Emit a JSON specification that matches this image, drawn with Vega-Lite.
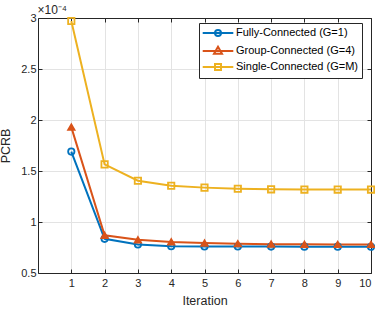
{
  "$schema": "https://vega.github.io/schema/vega-lite/v6.json",
  "width": 333,
  "height": 255,
  "autosize": {"type": "none"},
  "padding": {"left": 38, "top": 18, "right": 4, "bottom": 36},
  "background": "white",
  "config": {
    "view": {"stroke": null},
    "font": "Liberation Sans",
    "axis": {"labelFont": "Liberation Sans", "labelFontSize": 11, "labelColor": "#262626", "titleFont": "Liberation Sans", "titleFontSize": 12.5, "titleFontWeight": "normal", "titleColor": "#262626", "domainColor": "#262626", "tickColor": "#262626", "gridColor": "#e3e3e3", "gridOpacity": 1},
    "legend": {"labelFont": "Liberation Sans", "labelFontSize": 11, "labelColor": "#000000", "symbolSize": 100, "symbolStrokeWidth": 2}
  },
  "data": {"values": [
    {"it": 1, "s": "Fully-Connected (G=1)", "v": 1.69},
    {"it": 2, "s": "Fully-Connected (G=1)", "v": 0.835},
    {"it": 3, "s": "Fully-Connected (G=1)", "v": 0.78},
    {"it": 4, "s": "Fully-Connected (G=1)", "v": 0.762},
    {"it": 5, "s": "Fully-Connected (G=1)", "v": 0.76},
    {"it": 6, "s": "Fully-Connected (G=1)", "v": 0.76},
    {"it": 7, "s": "Fully-Connected (G=1)", "v": 0.759},
    {"it": 8, "s": "Fully-Connected (G=1)", "v": 0.758},
    {"it": 9, "s": "Fully-Connected (G=1)", "v": 0.758},
    {"it": 10, "s": "Fully-Connected (G=1)", "v": 0.757},
    {"it": 1, "s": "Group-Connected (G=4)", "v": 1.93},
    {"it": 2, "s": "Group-Connected (G=4)", "v": 0.87},
    {"it": 3, "s": "Group-Connected (G=4)", "v": 0.825},
    {"it": 4, "s": "Group-Connected (G=4)", "v": 0.805},
    {"it": 5, "s": "Group-Connected (G=4)", "v": 0.793},
    {"it": 6, "s": "Group-Connected (G=4)", "v": 0.787},
    {"it": 7, "s": "Group-Connected (G=4)", "v": 0.783},
    {"it": 8, "s": "Group-Connected (G=4)", "v": 0.781},
    {"it": 9, "s": "Group-Connected (G=4)", "v": 0.78},
    {"it": 10, "s": "Group-Connected (G=4)", "v": 0.78},
    {"it": 1, "s": "Single-Connected (G=M)", "v": 2.97},
    {"it": 2, "s": "Single-Connected (G=M)", "v": 1.565},
    {"it": 3, "s": "Single-Connected (G=M)", "v": 1.405},
    {"it": 4, "s": "Single-Connected (G=M)", "v": 1.355},
    {"it": 5, "s": "Single-Connected (G=M)", "v": 1.337},
    {"it": 6, "s": "Single-Connected (G=M)", "v": 1.326},
    {"it": 7, "s": "Single-Connected (G=M)", "v": 1.32},
    {"it": 8, "s": "Single-Connected (G=M)", "v": 1.318},
    {"it": 9, "s": "Single-Connected (G=M)", "v": 1.318},
    {"it": 10, "s": "Single-Connected (G=M)", "v": 1.318}
  ]},
  "resolve": {"scale": {"stroke": "independent", "fill": "independent", "shape": "independent"}},
  "layer": [
    {
      "mark": {"type": "line", "strokeWidth": 2},
      "encoding": {
        "x": {"field": "it", "type": "quantitative", "scale": {"domain": [0, 10], "nice": false}, "axis": {"orient": "bottom", "values": [1,2,3,4,5,6,7,8,9,10], "title": "Iteration", "tickSize": -4, "labelPadding": 8, "titlePadding": 6, "grid": true}},
        "y": {"field": "v", "type": "quantitative", "scale": {"domain": [0.5, 3], "nice": false, "zero": false}, "axis": {"orient": "left", "values": [0.5,1,1.5,2,2.5,3], "format": "~g", "title": "PCRB", "tickSize": -4, "labelPadding": 6, "titlePadding": 8, "grid": true}},
        "stroke": {"field": "s", "type": "nominal", "scale": {"domain": ["Fully-Connected (G=1)", "Group-Connected (G=4)", "Single-Connected (G=M)"], "range": ["#0072BD", "#D95319", "#EDB120"]}, "legend": null}
      }
    },
    {
      "mark": {"type": "point", "filled": true, "strokeWidth": 1.8, "size": 40, "opacity": 1},
      "encoding": {
        "x": {"field": "it", "type": "quantitative", "axis": {"orient": "top", "values": [1,2,3,4,5,6,7,8,9,10], "labels": false, "title": "×10⁻⁴", "titleFontSize": 12, "titleAngle": 0, "titleAlign": "left", "titleBaseline": "alphabetic", "titleAnchor": "start", "titleX": -1, "titleY": -5, "tickSize": -4, "grid": false}},
        "y": {"field": "v", "type": "quantitative", "axis": {"orient": "right", "values": [0.5,1,1.5,2,2.5,3], "labels": false, "title": null, "tickSize": -4, "grid": false}},
        "stroke": {"field": "s", "type": "nominal", "scale": {"domain": ["Fully-Connected (G=1)", "Group-Connected (G=4)", "Single-Connected (G=M)"], "range": ["#0072BD", "#D95319", "#EDB120"]}, "legend": null},
        "fill": {"field": "s", "type": "nominal", "scale": {"domain": ["Fully-Connected (G=1)", "Group-Connected (G=4)", "Single-Connected (G=M)"], "range": ["transparent", "#D95319", "transparent"]}, "legend": null},
        "shape": {"field": "s", "type": "nominal", "scale": {"domain": ["Fully-Connected (G=1)", "Group-Connected (G=4)", "Single-Connected (G=M)"], "range": ["circle", "triangle-up", "square"]}, "legend": null}
      }
    },
    {
      "mark": {"type": "point", "filled": true, "strokeWidth": 2, "size": 100, "opacity": 0},
      "encoding": {
        "x": {"field": "it", "type": "quantitative", "axis": null},
        "y": {"field": "v", "type": "quantitative", "axis": null},
        "stroke": {"field": "s", "type": "nominal", "scale": {"domain": ["Fully-Connected (G=1)", "Group-Connected (G=4)", "Single-Connected (G=M)"], "range": ["#0072BD", "#D95319", "#EDB120"]}, "legend": {"title": null, "orient": "none", "legendX": 161, "legendY": 5, "padding": 4, "rowPadding": 2, "labelOffset": 21, "labelExpr": "datum.label + '\u00a0\u00a0\u00a0'", "strokeColor": "#262626", "fillColor": "white", "symbolSize": 100, "symbolStrokeWidth": 2}},
        "fill": {"field": "s", "type": "nominal", "scale": {"domain": ["Fully-Connected (G=1)", "Group-Connected (G=4)", "Single-Connected (G=M)"], "range": ["transparent", "#D95319", "transparent"]}, "legend": {"title": null, "orient": "none", "legendX": 161, "legendY": 5, "padding": 4, "rowPadding": 2, "labelOffset": 21, "labelExpr": "datum.label + '\u00a0\u00a0\u00a0'", "strokeColor": "#262626", "fillColor": "white", "symbolSize": 100, "symbolStrokeWidth": 2}},
        "shape": {"field": "s", "type": "nominal", "scale": {"domain": ["Fully-Connected (G=1)", "Group-Connected (G=4)", "Single-Connected (G=M)"], "range": ["M-1.26,0H4.86M1.2,0A0.6,0.6,0,1,0,2.4,0A0.6,0.6,0,1,0,1.2,0Z", "M-1.26,0H4.86M1.8,-0.85L2.6,0.55L1,0.55Z", "M-1.26,0H4.86M1.2,-0.6H2.4V0.6H1.2Z"]}, "legend": {"title": null, "orient": "none", "legendX": 161, "legendY": 5, "padding": 4, "rowPadding": 2, "labelOffset": 21, "labelExpr": "datum.label + '\u00a0\u00a0\u00a0'", "strokeColor": "#262626", "fillColor": "white", "symbolSize": 100, "symbolStrokeWidth": 2}}
      }
    }
  ]
}
